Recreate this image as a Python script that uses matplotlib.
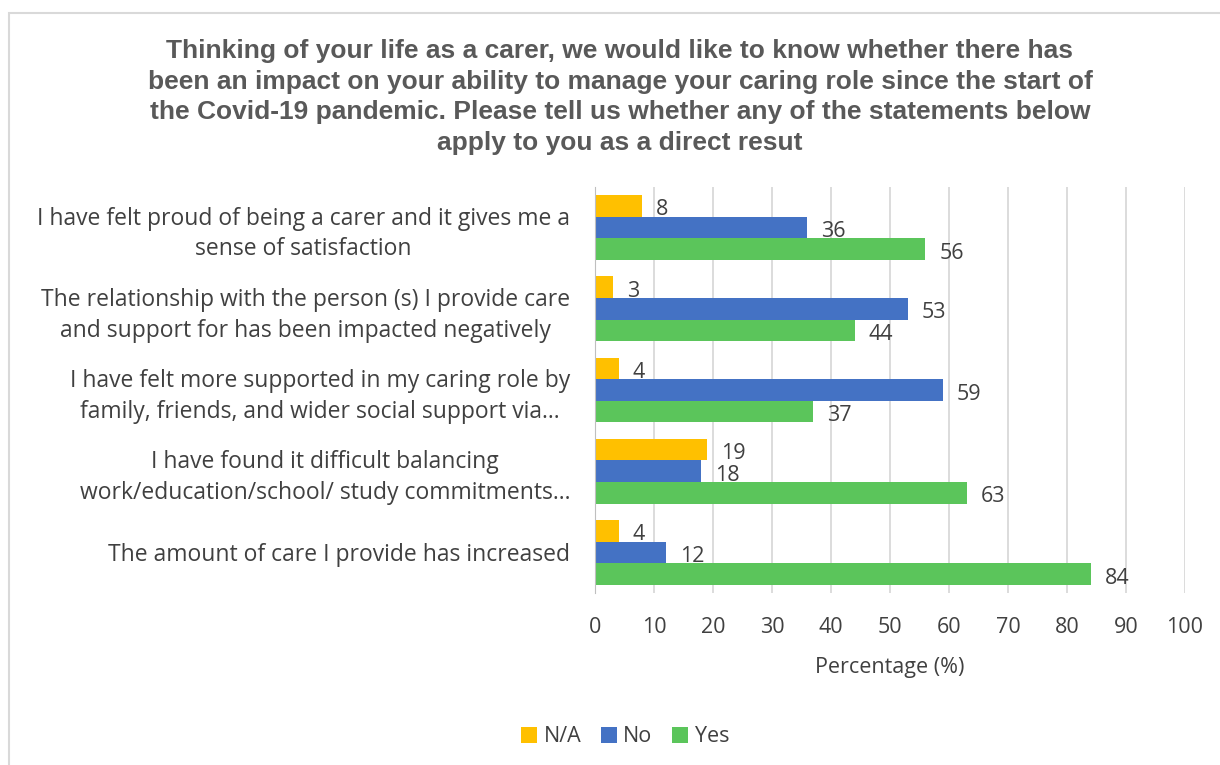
import matplotlib
matplotlib.use("Agg")
import matplotlib.pyplot as plt
import numpy as np
from matplotlib.patches import Rectangle

categories = [
    "I have felt proud of being a carer and it gives me a\nsense of satisfaction",
    "The relationship with the person (s) I provide care\nand support for has been impacted negatively",
    "I have felt more supported in my caring role by\nfamily, friends, and wider social support via\u2026",
    "I have found it difficult balancing\nwork/education/school/ study commitments\u2026",
    "The amount of care I provide has increased",
]
series_names = ["N/A", "No", "Yes"]
na_values = [8, 3, 4, 19, 4]
no_values = [36, 53, 59, 18, 12]
yes_values = [56, 44, 37, 63, 84]
x_ticks = [0, 10, 20, 30, 40, 50, 60, 70, 80, 90, 100]

title = ("Thinking of your life as a carer, we would like to know whether there has\n"
         "been an impact on your ability to manage your caring role since the start of\n"
         "the Covid-19 pandemic. Please tell us whether any of the statements below\n"
         "apply to you as a direct resut")
xlabel = "Percentage (%)"

colors = ["#FFC000", "#4472C4", "#5BC55B"]
text_color = "#404040"
body_font = "Open Sans"

fig = plt.figure(figsize=(12.2, 7.65), dpi=100)
fig.patches.append(Rectangle((9 / 1220, -0.1), 1.2, 1 - 12.5 / 765 + 0.1, transform=fig.transFigure,
                             fill=False, edgecolor="#D9D9D9", linewidth=1.5))

ax = fig.add_axes([595 / 1220, 1 - 593 / 765, 590 / 1220, (593 - 187) / 765])

n = len(categories)
y = np.arange(n)
h = 0.8 / 3
all_vals = [na_values, no_values, yes_values]
for i, (name, vals, c) in enumerate(zip(series_names, all_vals, colors)):
    pos = y + (i - 1) * h
    bars = ax.barh(pos, vals, height=h, color=c, label=name, zorder=3)
    for b, v in zip(bars, vals):
        ax.annotate(str(v), (v, b.get_y() + b.get_height() / 2), xytext=(14, -4),
                    textcoords="offset pixels",
                    ha="left", va="center", fontsize=15.5, color=text_color,
                    family=body_font)

ax.set_ylim(n - 0.5, -0.5)
ax.set_xlim(0, 100)
ax.set_xticks(x_ticks)
ax.set_yticks(y)
ax.set_yticklabels(categories, fontsize=16.5, color=text_color, family=body_font,
                   multialignment="center", linespacing=1.38)
ax.tick_params(axis="y", length=0, pad=18)
ax.tick_params(axis="x", length=0, pad=17, labelsize=15.5, labelcolor=text_color)
for lab in ax.get_xticklabels():
    lab.set_family(body_font)
ax.grid(axis="x", color="#D9D9D9", linewidth=1.3, zorder=0)
for s in ["top", "right", "bottom"]:
    ax.spines[s].set_visible(False)
ax.spines["left"].set_color("#BFBFBF")
ax.spines["left"].set_zorder(4)
ax.set_xlabel(xlabel, fontsize=15.5, color=text_color, family=body_font, labelpad=14)

fig.text(620 / 1220, 1 - 97 / 765, title, ha="center", va="center", fontsize=19,
         fontweight="bold", color="#595959", family="Liberation Sans", linespacing=1.35)

handles, labels = ax.get_legend_handles_labels()
leg = fig.legend(handles, labels, loc="center", bbox_to_anchor=(625 / 1220, 1 - 737 / 765),
                 ncol=3, frameon=False, handlelength=0.75, handleheight=0.75,
                 handletextpad=0.3, columnspacing=0.9,
                 prop={"family": body_font, "size": 15.5})
for t in leg.get_texts():
    t.set_color(text_color)

fig.savefig("out.png", dpi=100)
